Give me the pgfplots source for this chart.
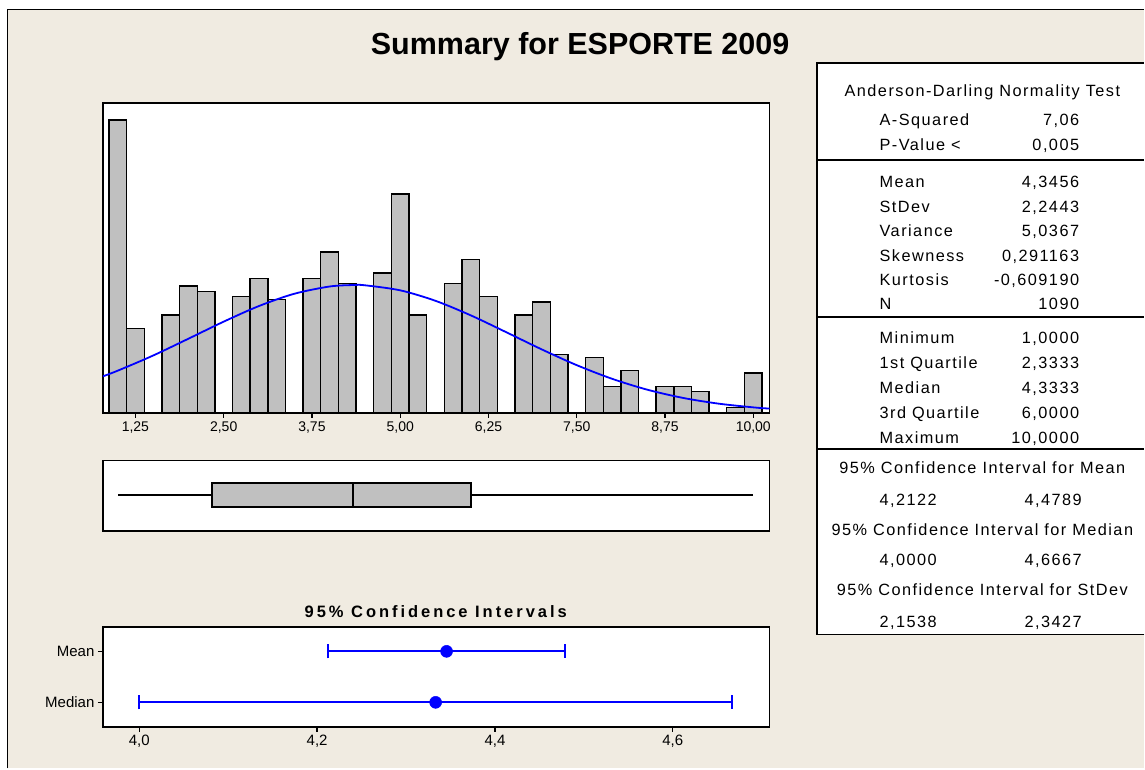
\documentclass[border=0pt]{standalone}
\usepackage{fontspec}
\setmainfont{Liberation Sans}
\newfontfamily\tabfont[LetterSpace=9]{Liberation Sans}
\newfontfamily\citfont[LetterSpace=18]{Liberation Sans}
\usepackage{pgfplots}
\pgfplotsset{compat=1.18}
\usepgfplotslibrary{statistics}
\usepackage{pgfplotstable}

\definecolor{panel}{RGB}{240,235,225}
\definecolor{bargray}{RGB}{192,192,192}
\definecolor{mtblue}{RGB}{0,0,255}

% histogram: left bin edge, count (bins of 0.25 centred on 1.00 ... 10.00)
\pgfplotstableread{
edge n
0.875 111
1.125 32
1.375 0
1.625 37
1.875 48
2.125 46
2.375 0
2.625 44
2.875 51
3.125 43
3.375 0
3.625 51
3.875 61
4.125 49
4.375 0
4.625 53
4.875 83
5.125 37
5.375 0
5.625 49
5.875 58
6.125 44
6.375 0
6.625 37
6.875 42
7.125 22
7.375 0
7.625 21
7.875 10
8.125 16
8.375 0
8.625 10
8.875 10
9.125 8
9.375 0
9.625 2
9.875 15
10.125 0
}\histdata

\newcommand{\tabsize}{\tabfont\fontsize{16.3}{19}\selectfont}
\newcommand{\row}[3]{%
  \node[anchor=base west, font=\tabsize, inner sep=0pt] at (880pt,#1pt) {#2};
  \node[anchor=base east, font=\tabsize, inner sep=0pt] at (1080pt,#1pt) {#3};}
\newcommand{\cihead}[2]{%
  \node[anchor=base, font=\tabsize, inner sep=0pt] at (983pt,#1pt) {#2};}
\newcommand{\cirow}[3]{%
  \node[anchor=base west, font=\tabsize, inner sep=0pt] at (880pt,#1pt) {#2};
  \node[anchor=base west, font=\tabsize, inner sep=0pt] at (1025pt,#1pt) {#3};}

\begin{document}
\begin{tikzpicture}
\begin{scope}[x=1pt, y=1pt]
\fill[white] (0,0) rectangle (1145,769);
\fill[panel] (7.5,0) rectangle (1145,759.7);
\draw[line width=1.5pt] (7.5,0) -- (7.5,759.7) -- (1145,759.7);
\node[anchor=base, font=\fontsize{30.5}{34}\selectfont\bfseries] at (580.5,714) {Summary for ESPORTE 2009};
\node[font=\citfont\fontsize{16.5}{19}\selectfont\bfseries] at (436,157.3) {95\% Confidence Intervals};
\end{scope}

% histogram with fitted normal curve
\begin{axis}[
  at={(103pt,356pt)}, anchor=south west,
  scale only axis, width=667pt, height=310pt,
  xmin=0.79, xmax=10.23, ymin=0, ymax=117.5,
  axis background/.style={fill=white},
  axis line style={line width=1.6pt},
  xtick={1.25,2.5,3.75,5,6.25,7.5,8.75,10},
  xticklabels={{1,25},{2,50},{3,75},{5,00},{6,25},{7,50},{8,75},{10,00}},
  ytick=\empty,
  xtick pos=left, tick align=outside, major tick length=5pt,
  tick style={black, line width=1.2pt},
  ticklabel style={font=\fontsize{14}{16}\selectfont},
]
\addplot[ybar interval, draw=black, fill=bargray, line width=1.4pt] table[x=edge, y=n] {\histdata};
\addplot[mtblue, line width=1.8pt, smooth] coordinates {
  (0.79,13.81) (1.0,15.95) (1.5,21.68) (2.0,28.06) (2.5,34.54) (3.0,40.47)
  (3.5,45.12) (4.0,47.87) (4.3456,48.44) (4.5,48.33) (5.0,46.42) (5.5,42.44)
  (6.0,36.92) (6.5,30.56) (7.0,24.07) (7.5,18.04) (8.0,12.87) (8.5,8.73)
  (9.0,5.64) (9.5,3.47) (10.0,2.03) (10.23,1.56)
};
\end{axis}

% boxplot
\begin{axis}[
  at={(103pt,237.7pt)}, anchor=south west,
  scale only axis, width=667pt, height=70.3pt,
  xmin=0.79, xmax=10.23, ymin=0, ymax=1,
  axis background/.style={fill=white},
  axis line style={line width=1.6pt},
  xtick=\empty, ytick=\empty,
]
\addplot[boxplot prepared={lower whisker=1, lower quartile=2.3333, median=4.3333,
    upper quartile=6, upper whisker=10, draw position=0.51, box extend=0.34,
    whisker extend=0, draw direction=x},
  draw=black, fill=bargray, line width=1.5pt] coordinates {};
\end{axis}

% confidence intervals
\begin{axis}[
  at={(103pt,41.7pt)}, anchor=south west,
  scale only axis, width=667pt, height=100pt,
  xmin=3.9592, xmax=4.7087, ymin=0.52, ymax=2.48,
  axis background/.style={fill=white},
  axis line style={line width=1.6pt},
  xtick={4,4.2,4.4,4.6}, xticklabels={{4,0},{4,2},{4,4},{4,6}},
  ytick={1,2}, yticklabels={Median,Mean},
  xtick pos=left, ytick pos=left, tick align=outside, major tick length=5pt,
  tick style={black, line width=1.2pt},
  ticklabel style={font=\fontsize{15}{17}\selectfont},
]
\addplot[mtblue, line width=2pt, only marks, mark=*, mark size=6pt,
  mark options={solid, line width=0.5pt},
  error bars/.cd, x dir=both, x explicit, error mark=|,
  error bar style={line width=2pt, mtblue},
  error mark options={mtblue, mark size=7pt, line width=2pt}]
  coordinates {
  (4.3456,2) += (0.1333,0) -= (0.1334,0)
  (4.3333,1) += (0.3334,0) -= (0.3333,0)
};
\end{axis}

% summary table (its right border lies beyond the picture)
\fill[white] (817.7pt,134pt) rectangle (1145pt,705.7pt);
\draw[line width=1.5pt] (1145pt,134pt) -- (817.7pt,134pt) -- (817.7pt,705.7pt) -- (1145pt,705.7pt);
\draw[line width=1.5pt] (817.7pt,609pt) -- (1145pt,609pt);
\draw[line width=1.5pt] (817.7pt,452pt) -- (1145pt,452pt);
\draw[line width=1.5pt] (817.7pt,319.5pt) -- (1145pt,319.5pt);
\cihead{672}{Anderson-Darling Normality Test}
\row{643.2}{A-Squared}{7,06}
\row{618.2}{P-Value <}{0,005}
\row{580.9}{Mean}{4,3456}
\row{556.7}{StDev}{2,2443}
\row{532.2}{Variance}{5,0367}
\row{507.7}{Skewness}{0,291163}
\row{483.2}{Kurtosis}{-0,609190}
\row{459.2}{N}{1090}
\row{425.2}{Minimum}{1,0000}
\row{400.2}{1st Quartile}{2,3333}
\row{375.2}{Median}{4,3333}
\row{350.2}{3rd Quartile}{6,0000}
\row{325.2}{Maximum}{10,0000}
\cihead{295.2}{95\% Confidence Interval for Mean}
\cirow{263.2}{4,2122}{4,4789}
\cihead{233.2}{95\% Confidence Interval for Median}
\cirow{203.2}{4,0000}{4,6667}
\cihead{173.2}{95\% Confidence Interval for StDev}
\cirow{141.5}{2,1538}{2,3427}
\end{tikzpicture}
\end{document}
